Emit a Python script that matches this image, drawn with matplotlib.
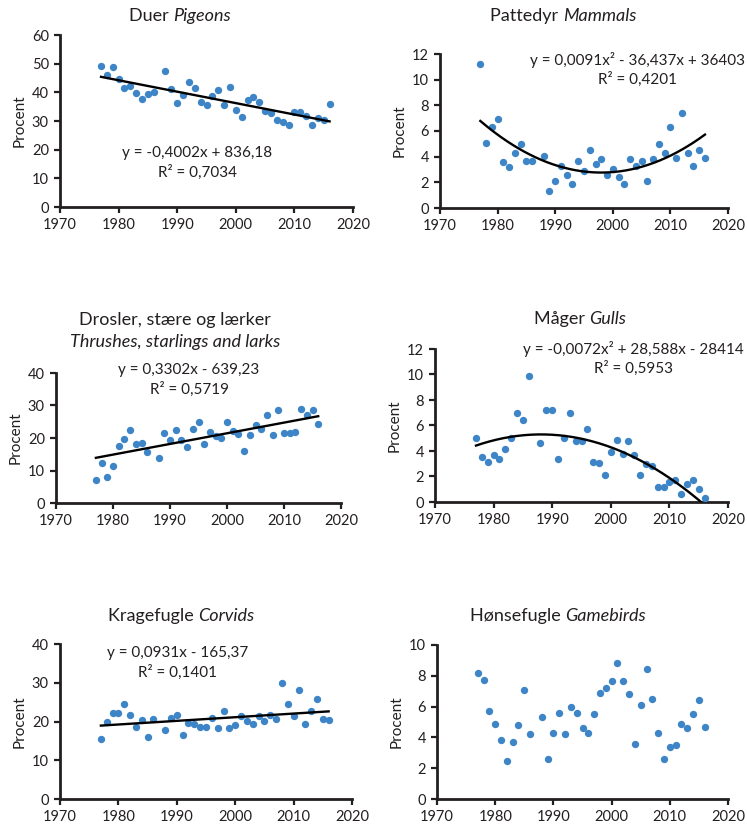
import numpy as np
import matplotlib
matplotlib.use("Agg")
import matplotlib.pyplot as plt

plt.rcParams['font.family'] = ['Lato', 'DejaVu Sans']

W, H = 747, 830
DOT = "#3d85c6"
INK = "#231f20"

# years with observations (1987 is missing in every series)
YEARS = list(range(1977, 1987)) + list(range(1988, 2017))

pigeons = [49.2, 46.1, 48.9, 44.6, 41.4, 42.2, 39.9, 37.7, 39.3, 40.2,
           47.3, 41.0, 36.2, 39.2, 43.6, 41.4, 36.7, 35.6, 38.8, 40.9,
           35.6, 41.9, 33.9, 31.4, 37.3, 38.4, 36.7, 33.5, 32.8, 30.2,
           29.7, 28.6, 33.0, 33.0, 31.6, 28.6, 31.1, 30.5, 36.0]
mammals = [11.2, 5.1, 6.3, 6.9, 3.55, 3.2, 4.3, 5.0, 3.7, 3.7,
           4.05, 1.3, 2.1, 3.3, 2.6, 1.9, 3.7, 2.9, 4.5, 3.45,
           3.8, 2.6, 3.0, 2.4, 1.9, 3.8, 3.3, 3.7, 2.1, 3.8,
           5.0, 4.3, 6.3, 3.9, 7.4, 4.3, 3.3, 4.5, 3.9]
thrushes = [7.0, 12.2, 8.0, 11.3, 17.6, 19.7, 22.4, 18.1, 18.6, 15.8,
            14.0, 21.4, 19.5, 22.4, 19.5, 17.3, 22.8, 24.8, 18.1, 21.9,
            20.6, 20.1, 24.8, 22.0, 21.3, 16.0, 21.0, 24.0, 22.8, 27.0,
            21.0, 28.5, 21.4, 21.4, 21.9, 28.9, 27.1, 28.5, 24.3]
gulls = [5.0, 3.55, 3.15, 3.65, 3.4, 4.15, 5.0, 7.0, 6.4, 9.85,
         4.6, 7.2, 7.2, 3.4, 5.05, 7.0, 4.8, 4.75, 5.7, 3.15,
         3.05, 2.1, 3.9, 4.85, 3.75, 4.75, 3.7, 2.1, 2.95, 2.85,
         1.15, 1.15, 1.6, 1.75, 0.65, 1.4, 1.75, 1.0, 0.3]
corvids = [15.5, 19.8, 22.2, 22.2, 24.6, 21.7, 18.5, 20.3, 15.9, 20.6,
           17.8, 21.0, 21.7, 16.6, 19.7, 19.3, 18.5, 18.5, 21.0, 18.2,
           22.6, 18.2, 19.1, 21.4, 20.2, 19.4, 21.4, 20.2, 21.8, 20.6,
           30.0, 24.6, 21.4, 28.1, 19.4, 22.6, 25.7, 20.6, 20.3]
gamebirds = [8.15, 7.75, 5.7, 4.9, 3.8, 2.5, 3.7, 4.8, 7.1, 4.2,
             5.3, 2.6, 4.3, 5.6, 4.2, 6.0, 5.6, 4.6, 4.3, 5.5,
             6.9, 7.2, 7.65, 8.85, 7.65, 6.8, 3.6, 6.1, 8.45, 6.5,
             4.3, 2.6, 3.4, 3.5, 4.9, 4.6, 5.5, 6.4, 4.7]

# name, italic name, values, y max, y step, fit degree, equation lines
PANELS = [
    ("Duer", "Pigeons", pigeons, 60, 10, 1,
     ["y = -0,4002x + 836,18", "R² = 0,7034"]),
    ("Pattedyr", "Mammals", mammals, 12, 2, 2,
     ["y = 0,0091x² - 36,437x + 36403", "R² = 0,4201"]),
    ("Drosler, stære og lærker", "Thrushes, starlings and larks", thrushes, 40, 10, 1,
     ["y = 0,3302x - 639,23", "R² = 0,5719"]),
    ("Måger", "Gulls", gulls, 12, 2, 2,
     ["y = -0,0072x² + 28,588x - 28414", "R² = 0,5953"]),
    ("Kragefugle", "Corvids", corvids, 40, 10, 1,
     ["y = 0,0931x - 165,37", "R² = 0,1401"]),
    ("Hønsefugle", "Gamebirds", gamebirds, 10, 2, None, None),
]

# axes boxes in pixels: left, top, right, bottom
BOXES = [(60, 35, 353, 207), (440, 54, 728, 208),
         (56, 373, 341, 503), (435, 349, 728, 502),
         (60, 644, 352, 799), (437, 645, 728, 799)]
# title centre x, y (pixels)
TITLES = [(180, 16), (563, 16), (175, 320), (580, 319), (181, 616), (558, 616)]
# equation centre x, first line y (pixels)
EQS = [(197, 153), (638, 60), (189, 370), (633, 349), (178, 653), None]


def fx(x):
    return x / W


def fy(y):
    return 1 - y / H


fig = plt.figure(figsize=(W / 100, H / 100), dpi=100)

for i, (name, latin, vals, ymax, ystep, deg, eq) in enumerate(PANELS):
    l, t, r, b = BOXES[i]
    ax = fig.add_axes([fx(l), fy(b), (r - l) / W, (b - t) / H])
    ax.scatter(YEARS, vals, s=28, color=DOT, zorder=3, linewidths=0)
    if deg is not None:
        coef = np.polyfit(YEARS, vals, deg)
        xs = np.linspace(1977, 2016, 200)
        ax.plot(xs, np.polyval(coef, xs), color="black", lw=1.7, zorder=4)
    ax.set_xlim(1970, 2020)
    ax.set_ylim(0, ymax)
    ax.set_xticks(range(1970, 2021, 10))
    ax.set_yticks(np.arange(0, ymax + ystep / 2, ystep))
    for s in ("top", "right"):
        ax.spines[s].set_visible(False)
    for s in ("left", "bottom"):
        ax.spines[s].set_linewidth(2.0)
        ax.spines[s].set_color(INK)
    ax.tick_params(width=1.6, length=4, labelsize=10.5, colors=INK, pad=4)
    ax.set_ylabel("Procent", fontsize=11, color=INK, labelpad=4)

    tx, ty = TITLES[i]
    if i == 2:
        fig.text(fx(tx), fy(ty), name, ha="center", va="center", fontsize=13, color=INK)
        fig.text(fx(tx), fy(ty + 22), latin, ha="center", va="center", fontsize=13,
                 style="italic", color=INK)
    else:
        t1 = fig.text(fx(tx), fy(ty), name + " ", ha="right", va="center",
                      fontsize=13, color=INK)
        fig.canvas.draw()
        w1 = t1.get_window_extent().width
        t2 = fig.text(fx(tx), fy(ty), latin, ha="left", va="center",
                      fontsize=13, style="italic", color=INK)
        w2 = t2.get_window_extent(renderer=fig.canvas.get_renderer()).width
        shift = (w1 - w2) / 2
        t1.set_x(fx(tx + shift))
        t2.set_x(fx(tx + shift))

    if eq is not None:
        ex, ey = EQS[i]
        fig.text(fx(ex), fy(ey), eq[0], ha="center", va="center", fontsize=11, color=INK)
        fig.text(fx(ex), fy(ey + 19), eq[1], ha="center", va="center", fontsize=11, color=INK)

fig.savefig("out.png", dpi=100)
